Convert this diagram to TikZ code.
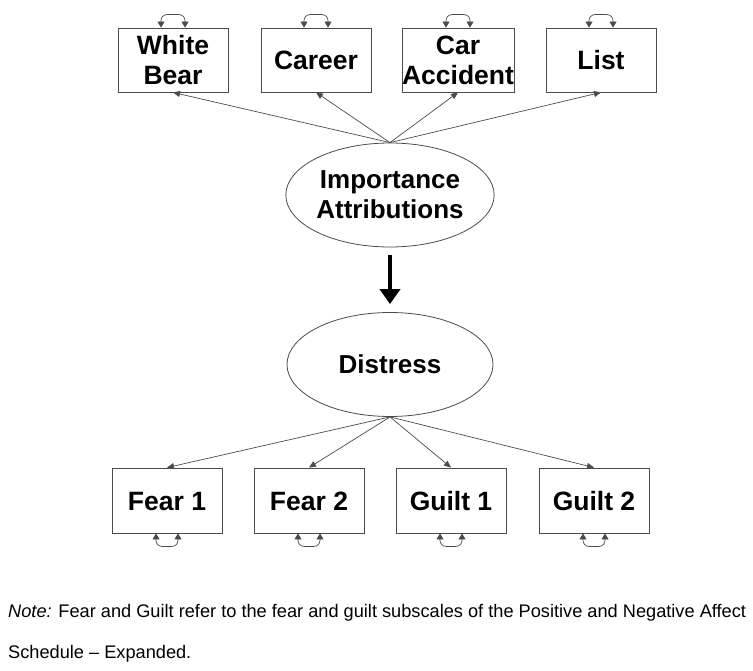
\documentclass[tikz,border=0pt]{standalone}
\usepackage{fontspec}
\setmainfont{Liberation Sans}
\usepackage{tikz}
\usetikzlibrary{shapes,arrows.meta,positioning}
\definecolor{LineGray}{RGB}{75,75,75}

\begin{document}
\begin{tikzpicture}[x=1pt, y=-1pt,
    box/.style={draw=LineGray, line width=0.8pt, minimum width=110pt, minimum height=64pt,
      inner sep=0pt, align=center, font=\fontsize{26.5}{30}\selectfont\bfseries},
    latent/.style={ellipse, draw=LineGray, line width=0.8pt, minimum width=206pt,
      minimum height=104pt, inner sep=0pt, align=center, font=\fontsize{26}{30}\selectfont\bfseries},
    load/.style={draw=LineGray, line width=0.7pt, -{Triangle[width=6pt,length=7pt]}},
    resid/.style={draw=LineGray, line width=0.7pt, rounded corners=6pt,
      {Triangle[width=7pt,length=6pt]}-{Triangle[width=7pt,length=6pt]}},
    causal/.style={line width=4pt, -{Triangle[width=20pt,length=15pt]}},
    notetext/.style={anchor=base west, inner sep=0pt, font=\fontsize{18.2}{20}\selectfont}]
    \useasboundingbox (0,0) rectangle (753,671);

    % latent variables
    \node[latent] (imp) at (390,195) {Importance\\Attributions};
    \node[latent] (dis) at (390,364.5) {Distress};
    \draw[causal, shorten <=8pt, shorten >=8pt] (imp) -- (dis);

    % indicators
    \foreach \nm/\x/\txt in {wb/173/{White\\Bear}, car/316/Career, acc/458/{Car\\Accident}, list/601/List} {
      \node[box] (\nm) at (\x,60) {\txt};
      \draw[load] (imp.north) -- (\nm.south);
      \draw[resid] ([xshift=-12pt]\nm.north) -- ++(0,-13) -| ([xshift=12pt]\nm.north);
    }
    \foreach \nm/\x/\txt in {f1/167/Fear 1, f2/309/Fear 2, g1/451/Guilt 1, g2/594/Guilt 2} {
      \node[box, minimum height=65pt, text height=19pt, text depth=0pt] (\nm) at (\x,500.5) {\txt};
      \draw[load] (dis.south) -- (\nm.north);
      \draw[resid] ([xshift=-11pt]\nm.south) -- ++(0,13) -| ([xshift=11pt]\nm.south);
    }

    % note
    \node[notetext] (note) at (8,617)
      {\textit{Note:} Fear and Guilt refer to the fear and guilt subscales of the Positive and Negative Affect};
    \node[notetext] (note2) at (8,658) {Schedule -- Expanded.};
  \end{tikzpicture}
\end{document}
